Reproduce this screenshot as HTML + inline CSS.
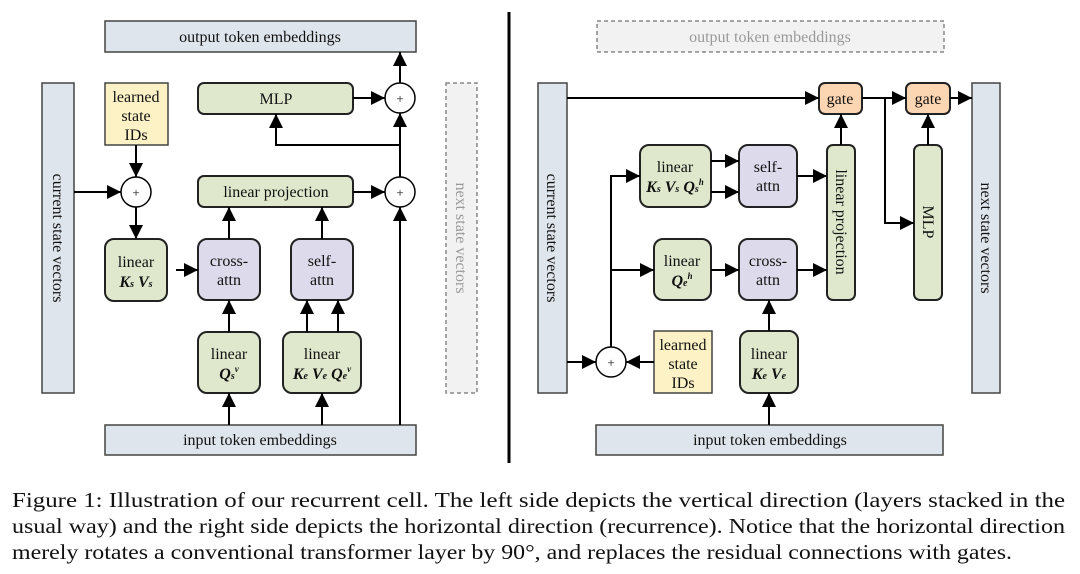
<!DOCTYPE html>
<html><head><meta charset="utf-8"><style>
html,body{margin:0;padding:0;background:#fff;width:1080px;height:574px;overflow:hidden}
svg{display:block}
text{font-family:"Liberation Serif","Times New Roman",Times,serif;fill:#111}
</style></head><body>
<svg width="1080" height="574" viewBox="0 0 1080 574" xmlns="http://www.w3.org/2000/svg">
<defs>
<marker id="a" viewBox="0 0 14 14" refX="14" refY="7" markerWidth="14" markerHeight="14" markerUnits="userSpaceOnUse" orient="auto">
<path d="M0,0 L14,7 L0,14 z" fill="#000"/></marker>
</defs>
<g stroke="#444" stroke-width="1.5">
<rect x="105" y="21" width="311" height="31" fill="#dfe5ec"/>
<rect x="42" y="83" width="32" height="310" fill="#dfe5ec"/>
<rect x="105" y="83" width="63" height="62" fill="#fdf2c6"/>
<rect x="446" y="83" width="31" height="310" fill="#f2f2f2" stroke="#888" stroke-dasharray="4,3"/>
<rect x="105" y="425" width="311" height="30" fill="#dfe5ec"/>
</g>
<g stroke="#222" stroke-width="2">
<rect x="198" y="83" width="155" height="31" rx="6" fill="#dfe8cc"/>
<rect x="198" y="176" width="155" height="31" rx="6" fill="#dfe8cc"/>
<rect x="105" y="239" width="62" height="62" rx="9" fill="#dfe8cc"/>
<rect x="198" y="239" width="62" height="61" rx="9" fill="#dddbeb"/>
<rect x="291" y="239" width="62" height="61" rx="9" fill="#dddbeb"/>
<rect x="198" y="332" width="62" height="61" rx="9" fill="#dfe8cc"/>
<rect x="283" y="332" width="78" height="61" rx="9" fill="#dfe8cc"/>
</g>
<g stroke="#000" stroke-width="1.5" fill="#fff">
<circle cx="400" cy="98" r="15"/><circle cx="136" cy="192" r="15"/><circle cx="400" cy="192" r="15"/>
</g>
<g stroke="#000" stroke-width="2" fill="none" marker-end="url(#a)">
<line x1="136" y1="145" x2="136" y2="177"/>
<line x1="74" y1="192" x2="121" y2="192"/>
<line x1="136" y1="207" x2="136" y2="239"/>
<line x1="176" y1="270" x2="198" y2="270"/>
<line x1="229" y1="425" x2="229" y2="393"/>
<line x1="229" y1="332" x2="229" y2="300"/>
<line x1="229" y1="239" x2="229" y2="207"/>
<line x1="322" y1="425" x2="322" y2="393"/>
<line x1="307" y1="332" x2="307" y2="300"/>
<line x1="338" y1="332" x2="338" y2="300"/>
<line x1="322" y1="239" x2="322" y2="207"/>
<line x1="353" y1="192" x2="385" y2="192"/>
<line x1="353" y1="98" x2="385" y2="98"/>
<line x1="400" y1="425" x2="400" y2="207"/>
<line x1="400" y1="177" x2="400" y2="113"/>
<line x1="400" y1="83" x2="400" y2="52"/>
<polyline points="400,145 276,145 276,114"/>
</g>
<g font-size="16" text-anchor="middle">
<text x="260" y="42">output token embeddings</text>
<text x="136" y="102">learned</text><text x="136" y="121">state</text><text x="136" y="140">IDs</text>
<text x="276" y="104">MLP</text>
<text x="276" y="197">linear projection</text>
<text x="136" y="267">linear</text>
<text x="136" y="287" font-weight="bold" font-style="italic">K<tspan font-size="10">s</tspan> V<tspan font-size="10">s</tspan></text>
<text x="229" y="266">cross-</text><text x="229" y="285">attn</text>
<text x="322" y="266">self-</text><text x="322" y="285">attn</text>
<text x="229" y="359">linear</text>
<text x="229" y="379" font-weight="bold" font-style="italic">Q<tspan font-size="10">s</tspan><tspan font-size="9" dy="-7">v</tspan></text>
<text x="322" y="359">linear</text>
<text x="322" y="379" font-weight="bold" font-style="italic">K<tspan font-size="10">e</tspan> V<tspan font-size="10">e</tspan> Q<tspan font-size="10">e</tspan><tspan font-size="9" dy="-7">v</tspan></text>
<text x="260" y="445">input token embeddings</text>
<text transform="translate(53,238) rotate(90)">current state vectors</text>
<text transform="translate(456,238) rotate(90)" style="fill:#999">next state vectors</text>
</g>
<g font-size="13" text-anchor="middle" fill="#000"><text x="136" y="197">+</text><text x="400" y="103">+</text><text x="400" y="197">+</text></g>

<line x1="509" y1="12" x2="509" y2="463" stroke="#000" stroke-width="3"/>

<g stroke="#444" stroke-width="1.5">
<rect x="597" y="21" width="347" height="31" fill="#f2f2f2" stroke="#888" stroke-dasharray="4,3"/>
<rect x="538" y="83" width="29" height="310" fill="#dfe5ec"/>
<rect x="972" y="83" width="28" height="310" fill="#dfe5ec"/>
<rect x="654" y="331" width="58" height="62" fill="#fdf2c6"/>
<rect x="596" y="425" width="347" height="30" fill="#dfe5ec"/>
</g>
<g stroke="#222" stroke-width="2">
<rect x="819" y="83" width="43" height="31" rx="6" fill="#fcd6b2"/>
<rect x="906" y="83" width="44" height="31" rx="6" fill="#fcd6b2"/>
<rect x="640" y="145" width="71" height="62" rx="9" fill="#dfe8cc"/>
<rect x="739" y="145" width="58" height="62" rx="9" fill="#dddbeb"/>
<rect x="827" y="145" width="28" height="155" rx="6" fill="#dfe8cc"/>
<rect x="914" y="145" width="28" height="155" rx="6" fill="#dfe8cc"/>
<rect x="654" y="239" width="57" height="61" rx="9" fill="#dfe8cc"/>
<rect x="739" y="239" width="58" height="61" rx="9" fill="#dddbeb"/>
<rect x="740" y="331" width="58" height="62" rx="9" fill="#dfe8cc"/>
</g>
<circle cx="611" cy="362" r="15" stroke="#000" stroke-width="1.5" fill="#fff"/>
<g stroke="#000" stroke-width="2" fill="none" marker-end="url(#a)">
<line x1="567" y1="98" x2="819" y2="98"/>
<line x1="862" y1="98" x2="906" y2="98"/>
<line x1="950" y1="98" x2="972" y2="98"/>
<polyline points="885,98 885,223 914,223"/>
<line x1="841" y1="145" x2="841" y2="114"/>
<line x1="928" y1="145" x2="928" y2="114"/>
<line x1="567" y1="362" x2="596" y2="362"/>
<line x1="654" y1="362" x2="626" y2="362"/>
<polyline points="611,347 611,176 640,176"/>
<polyline points="611,270 654,270"/>
<line x1="711" y1="161" x2="739" y2="161"/>
<line x1="711" y1="192" x2="739" y2="192"/>
<line x1="797" y1="176" x2="827" y2="176"/>
<line x1="711" y1="270" x2="739" y2="270"/>
<line x1="797" y1="270" x2="827" y2="270"/>
<line x1="769" y1="331" x2="769" y2="300"/>
<line x1="769" y1="425" x2="769" y2="393"/>
</g>
<g font-size="16" text-anchor="middle">
<text x="770" y="42" style="fill:#999">output token embeddings</text>
<text x="840" y="104">gate</text><text x="928" y="104">gate</text>
<text x="675" y="172">linear</text>
<text x="675" y="192" font-weight="bold" font-style="italic">K<tspan font-size="10">s</tspan> V<tspan font-size="10">s</tspan> Q<tspan font-size="10">s</tspan><tspan font-size="9" dy="-7">h</tspan></text>
<text x="768" y="172">self-</text><text x="768" y="191">attn</text>
<text x="682" y="266">linear</text>
<text x="682" y="286" font-weight="bold" font-style="italic">Q<tspan font-size="10">e</tspan><tspan font-size="9" dy="-7">h</tspan></text>
<text x="768" y="266">cross-</text><text x="768" y="285">attn</text>
<text x="683" y="350">learned</text><text x="683" y="369">state</text><text x="683" y="388">IDs</text>
<text x="769" y="359">linear</text>
<text x="769" y="379" font-weight="bold" font-style="italic">K<tspan font-size="10">e</tspan> V<tspan font-size="10">e</tspan></text>
<text x="770" y="445">input token embeddings</text>
<text transform="translate(547,238) rotate(90)">current state vectors</text>
<text transform="translate(981,238) rotate(90)">next state vectors</text>
<text transform="translate(836,222) rotate(90)">linear projection</text>
<text transform="translate(923,222) rotate(90)">MLP</text>
</g>
<text x="611" y="367" font-size="13" text-anchor="middle">+</text>

<g font-size="21">
<text x="12" y="507" textLength="1053" lengthAdjust="spacingAndGlyphs">Figure 1: Illustration of our recurrent cell. The left side depicts the vertical direction (layers stacked in the</text>
<text x="12" y="533" textLength="1053" lengthAdjust="spacingAndGlyphs">usual way) and the right side depicts the horizontal direction (recurrence). Notice that the horizontal direction</text>
<text x="12" y="559" textLength="1000" lengthAdjust="spacingAndGlyphs">merely rotates a conventional transformer layer by 90°, and replaces the residual connections with gates.</text>
</g>
</svg>
</body></html>
